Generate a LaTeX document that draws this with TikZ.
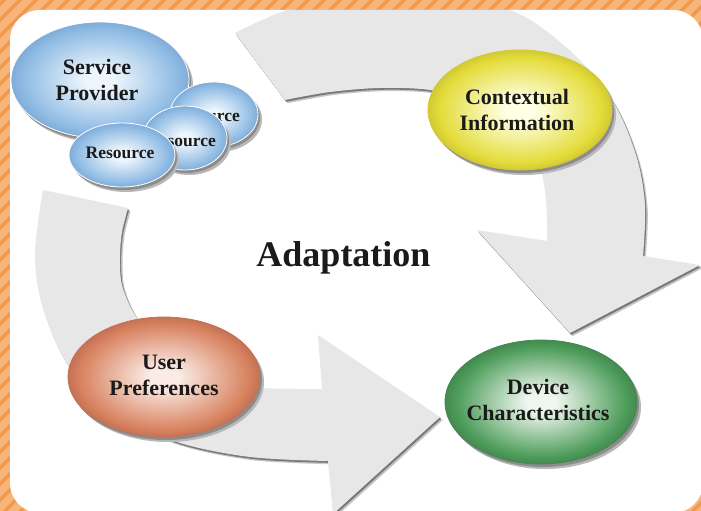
\documentclass[tikz,border=0pt]{standalone}
\usepackage{fontspec}
\setmainfont{Liberation Serif}
\usetikzlibrary{shapes.geometric}
\definecolor{orbase}{HTML}{F2984B}
\definecolor{orstripe}{HTML}{F7B57A}
\definecolor{arrowgray}{HTML}{E7E7E7}
\definecolor{shdark}{HTML}{787878}
\definecolor{shsoft}{HTML}{C6C6C6}
\definecolor{elsha}{HTML}{B8B8B8}
\definecolor{elshb}{HTML}{8C8C8C}
\definecolor{txt}{HTML}{1A1A1A}
\definecolor{bluein}{HTML}{EEF6FD}
\definecolor{blueout}{HTML}{8DBAE3}
\definecolor{bluerim}{HTML}{80ACD8}
\definecolor{yelin}{HTML}{FFFFE4}
\definecolor{yelout}{HTML}{E4DC3A}
\definecolor{yelrim}{HTML}{D2C934}
\definecolor{orain}{HTML}{FAEBE5}
\definecolor{oraout}{HTML}{D8825F}
\definecolor{orarim}{HTML}{C47256}
\definecolor{grnin}{HTML}{EEF6EE}
\definecolor{grnout}{HTML}{4E9D5B}
\definecolor{grnrim}{HTML}{448A50}
\pgfdeclareradialshading{shblue}{\pgfpoint{0bp}{0bp}}{color(0bp)=(bluein); color(4bp)=(bluein); color(22bp)=(blueout); color(25bp)=(bluerim); color(50bp)=(bluerim)}
\pgfdeclareradialshading{shyel}{\pgfpoint{0bp}{0bp}}{color(0bp)=(yelin); color(4bp)=(yelin); color(22bp)=(yelout); color(25bp)=(yelrim); color(50bp)=(yelrim)}
\pgfdeclareradialshading{shora}{\pgfpoint{0bp}{0bp}}{color(0bp)=(orain); color(4bp)=(orain); color(22bp)=(oraout); color(25bp)=(orarim); color(50bp)=(orarim)}
\pgfdeclareradialshading{shgrn}{\pgfpoint{0bp}{0bp}}{color(0bp)=(grnin); color(4bp)=(grnin); color(22bp)=(grnout); color(25bp)=(grnrim); color(50bp)=(grnrim)}
\tikzset{
  ellbase/.style={ellipse, inner sep=0pt, outer sep=0pt},
  lab/.style={font=\bfseries\fontsize{22}{26}\selectfont, align=center, text=txt, inner sep=0pt},
  reslab/.style={font=\bfseries\fontsize{17.5}{20}\selectfont, text=txt, inner sep=0pt},
  biglab/.style={font=\bfseries\fontsize{36}{40}\selectfont, text=txt, inner sep=0pt},
  stripe/.style={orstripe, line width=7.5pt}
}
% name, x, y, width, height, shading, border
\newcommand\blob[7]{%
  \node[ellbase, fill=elsha, minimum width=#4pt, minimum height=#5pt] (#1-sa) at (#2+4,#3+5) {};
  \node[ellbase, fill=elshb, minimum width=#4pt, minimum height=#5pt] (#1-sb) at (#2+2,#3+3) {};
  \node[ellbase, shade, shading=#6, draw=#7, line width=0.8pt, minimum width=#4pt, minimum height=#5pt] (#1) at (#2,#3) {};
}
\newcommand\toparrowpath{plot[smooth, tension=0.55] coordinates {(235,33) (300,6) (400,-8) (505,8) (567,48) (612,100) (636,155) (645,205) (643,256)} -- (700,265) -- (570,333) -- (477,230) -- (547,241) -- plot[smooth, tension=0.55] coordinates {(547,241) (546,200) (538,160) (515,125) (480,102) (430,90) (380,88) (330,92) (285,100)} -- cycle}
\newcommand\botarrowpath{plot[smooth, tension=0.55] coordinates {(43,190) (35,253) (42,305) (66,362) (110,412) (177,442) (250,457) (328,461)} -- (333,514) -- (440,417) -- (318,335) -- (322,389) -- plot[smooth, tension=0.55] coordinates {(322,389) (250,387) (200,372) (160,345) (135,315) (122,285) (120,257) (122,232) (128,208)} -- cycle}
\begin{document}
\begin{tikzpicture}[x=1pt, y=-1pt]
\useasboundingbox (0,0) rectangle (701,511);
% orange striped frame
\begin{scope}
  \clip (0,0) rectangle (701,511);
  \fill[orbase] (0,0) rectangle (701,511);
  \foreach \i in {-540,-524,...,720} {
    \draw[stripe] (\i,520) -- (\i+530,-10);
  }
\end{scope}
% white panel
\fill[white, rounded corners=30pt] (10,10) rectangle (703,513);
% gray circular arrows
\begin{scope}
  \clip[rounded corners=30pt] (10,10) rectangle (703,513);
  \fill[shsoft, shift={(2.6,3.2)}] \toparrowpath;
  \fill[shdark, shift={(1.2,1.8)}] \toparrowpath;
  \fill[arrowgray] \toparrowpath;
  \fill[shsoft, shift={(2.6,3.2)}] \botarrowpath;
  \fill[shdark, shift={(1.2,1.8)}] \botarrowpath;
  \fill[arrowgray] \botarrowpath;
\end{scope}
% service provider and resources
\blob{sp}{100}{80}{178}{116}{shblue}{white}
\node[lab] (t-sp) at (97,79.5) {Service\\Provider};
\blob{r3}{214}{114.5}{88}{65}{shblue}{white}
\node[reslab, anchor=base east] (t-r3) at (240,121) {Resource};
\blob{r2}{185}{138}{84}{64}{shblue}{white}
\node[reslab, anchor=base east] (t-r2) at (216,146) {Resource};
\blob{r1}{122}{155}{106}{64}{shblue}{white}
\node[reslab, anchor=base] (t-r1) at (120,158) {Resource};
% other ellipses
\blob{ctx}{520}{110}{184}{120}{shyel}{yelrim}
\node[lab] (t-ctx) at (517,110.4) {Contextual\\Information};
\blob{up}{164}{377}{192}{120}{shora}{orarim}
\node[lab] (t-up) at (164,375.7) {User\\Preferences};
\blob{dc}{541}{402}{192}{124}{shgrn}{grnrim}
\node[lab] (t-dc) at (538,400.4) {Device\\Characteristics};
% centre title
\node[biglab, anchor=base] (t-ad) at (343.5,266) {Adaptation};
\end{tikzpicture}
\end{document}
